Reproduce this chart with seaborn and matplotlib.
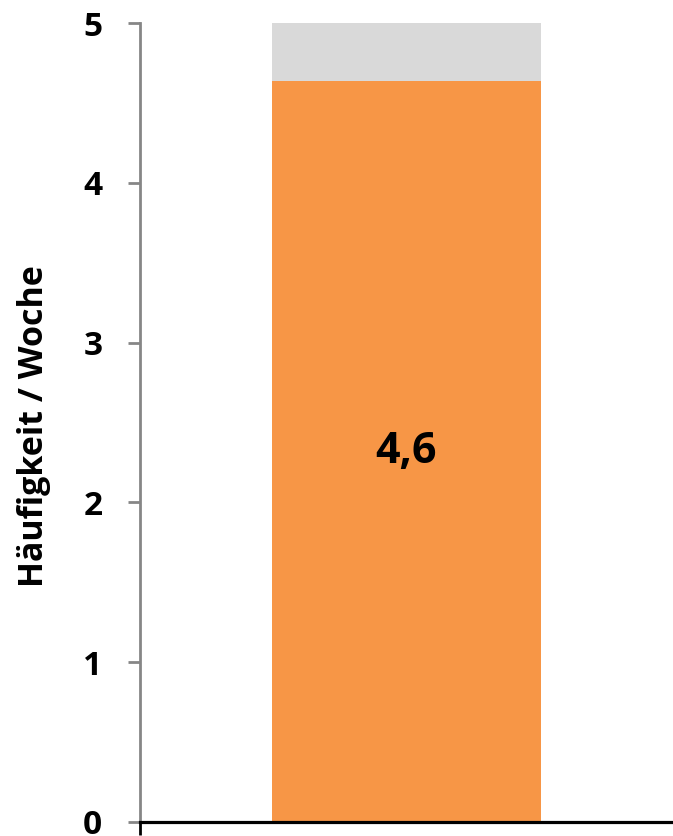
import matplotlib
matplotlib.use("Agg")
import matplotlib.pyplot as plt
import seaborn as sns
import pandas as pd

# ---- data ----
categories = ["Häufigkeit"]
values = [4.64]          # orange part
scale_max = [5.0]        # grey background bar (full scale)
value_labels = ["4,6"]
y_ticks = [0, 1, 2, 3, 4, 5]
y_label = "Häufigkeit / Woche"

ORANGE = "#F79646"
GREY = "#D9D9D9"
AXGREY = "#868686"

sns.set_theme(style="white")
plt.rcParams["font.family"] = ["Open Sans", "DejaVu Sans"]

df = pd.DataFrame({"cat": categories, "val": values, "max": scale_max})

fig = plt.figure(figsize=(6.73, 8.36), dpi=100)
ax = fig.add_axes([140 / 673, 1 - 822 / 836, 533 / 673, (822 - 23) / 836])

sns.barplot(data=df, x="cat", y="max", color=GREY, width=0.503, saturation=1,
            ax=ax, edgecolor="none", linewidth=0)
sns.barplot(data=df, x="cat", y="val", color=ORANGE, width=0.503, saturation=1,
            ax=ax, edgecolor="none", linewidth=0)

for i, (v, lab) in enumerate(zip(values, value_labels)):
    ax.text(i, v / 2, lab, ha="center", va="center", fontsize=31,
            fontweight="bold", color="black")

ax.set_xlim(-0.5, 0.5)
ax.set_ylim(0, 5)
ax.set_yticks(y_ticks)
ax.set_yticklabels([str(t) for t in y_ticks], fontsize=24, fontweight="bold",
                   color="black")
ax.set_xticks([-0.5])
ax.set_xticklabels([""])
ax.set_xlabel("")
ax.set_ylabel("")

ax.tick_params(axis="y", direction="out", length=8.6, width=2, color=AXGREY,
               pad=18.5, left=True)
ax.tick_params(axis="x", direction="out", length=9.4, width=2, color="black",
               bottom=True)

for s in ["top", "right"]:
    ax.spines[s].set_visible(False)
ax.spines["left"].set_color(AXGREY)
ax.spines["left"].set_linewidth(2)
ax.spines["bottom"].set_color("black")
ax.spines["bottom"].set_linewidth(2.3)
ax.spines["bottom"].set_zorder(5)

fig.text(34 / 673, 1 - 426 / 836, y_label, rotation=90, ha="center",
         va="center", fontsize=24.5, fontweight="bold", color="black")

fig.savefig("out.png", dpi=100)
